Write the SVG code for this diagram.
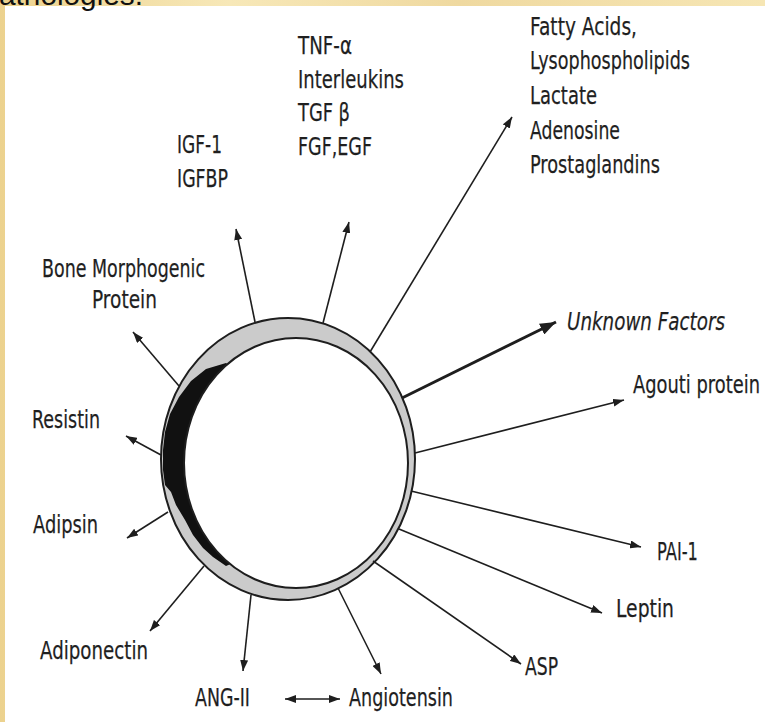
<svg xmlns="http://www.w3.org/2000/svg" width="765" height="722" viewBox="0 0 765 722">
<defs>
<marker id="ah" markerUnits="userSpaceOnUse" markerWidth="11" markerHeight="8" refX="11" refY="4" orient="auto-start-reverse"><path d="M0,0 L11,4 L0,8 z" fill="#1e1e1e"/></marker>
<marker id="ahBig" markerUnits="userSpaceOnUse" markerWidth="16" markerHeight="12" refX="16" refY="6" orient="auto"><path d="M0,0 L16,6 L0,12 z" fill="#1e1e1e"/></marker>
<linearGradient id="bg" x1="0" y1="0" x2="1" y2="0">
<stop offset="0" stop-color="#ecd28e"/><stop offset="0.3" stop-color="#f7e8b8"/><stop offset="0.6" stop-color="#efd9a0"/><stop offset="1" stop-color="#f6e6b4"/>
</linearGradient>
</defs>
<style>
.t{font-family:"DejaVu Sans","Liberation Sans",sans-serif;font-size:25px;fill:#1f1f1f;stroke:#1f1f1f;stroke-width:0.25}
.c{stroke:#1e1e1e;stroke-width:1.6;fill:none}
</style>
<rect x="0" y="0" width="765" height="722" fill="url(#bg)"/>
<rect x="5" y="6" width="760" height="716" fill="#ffffff"/>
<text x="-1" y="5" font-family="Liberation Sans, Arial, sans-serif" font-size="29" fill="#111" textLength="144" lengthAdjust="spacingAndGlyphs">athologies.</text>

<g id="cell">
<ellipse cx="288" cy="459" rx="127" ry="141" fill="#cbcbcb" stroke="#1e1e1e" stroke-width="2"/>
<path d="M226,363 L206,369 L191,381 L179,397 L170,414 L165,432 L163,450 L163,470 L165,485 L171,492 L176,505 L185,520 L193,535 L203,548 L213,557 L226,566 L240,560 L215,470 L235,370 z" fill="#111"/>
<ellipse cx="296" cy="463" rx="112" ry="125" fill="#ffffff" stroke="#1e1e1e" stroke-width="2"/>
</g>

<g id="connectors">
<line class="c" x1="255" y1="322" x2="236" y2="229" marker-end="url(#ah)"/>
<line class="c" x1="323" y1="323" x2="349" y2="222" marker-end="url(#ah)"/>
<line class="c" x1="370" y1="352" x2="512" y2="117" marker-end="url(#ah)"/>
<line x1="402" y1="398" x2="556" y2="322" stroke="#1e1e1e" stroke-width="3" marker-end="url(#ahBig)"/>
<line class="c" x1="415" y1="453" x2="624" y2="400" marker-end="url(#ah)"/>
<line class="c" x1="411" y1="491" x2="641" y2="547" marker-end="url(#ah)"/>
<line class="c" x1="399" y1="529" x2="602" y2="613" marker-end="url(#ah)"/>
<line class="c" x1="373" y1="561" x2="521" y2="664" marker-end="url(#ah)"/>
<line class="c" x1="338" y1="588" x2="381" y2="674" marker-end="url(#ah)"/>
<line class="c" x1="251" y1="595" x2="243" y2="671" marker-end="url(#ah)"/>
<line class="c" x1="204" y1="566" x2="150" y2="631" marker-end="url(#ah)"/>
<line class="c" x1="168" y1="512" x2="127" y2="538" marker-end="url(#ah)"/>
<line class="c" x1="161" y1="455" x2="126" y2="436" marker-end="url(#ah)"/>
<line class="c" x1="179" y1="386" x2="133" y2="332" marker-end="url(#ah)"/>
<line class="c" x1="285" y1="699" x2="340" y2="699" marker-start="url(#ah)" marker-end="url(#ah)"/>
</g>

<g id="lipids">
<text class="t" x="530" y="35" textLength="107" lengthAdjust="spacingAndGlyphs">Fatty Acids,</text>
<text class="t" x="530" y="69" textLength="160" lengthAdjust="spacingAndGlyphs">Lysophospholipids</text>
<text class="t" x="530" y="104" textLength="67" lengthAdjust="spacingAndGlyphs">Lactate</text>
<text class="t" x="530" y="139" textLength="90" lengthAdjust="spacingAndGlyphs">Adenosine</text>
<text class="t" x="530" y="173" textLength="130" lengthAdjust="spacingAndGlyphs">Prostaglandins</text>
</g>
<g id="cytokines">
<text class="t" x="298" y="54" textLength="54" lengthAdjust="spacingAndGlyphs">TNF-α</text>
<text class="t" x="298" y="88" textLength="106" lengthAdjust="spacingAndGlyphs">Interleukins</text>
<text class="t" x="298" y="121" textLength="52" lengthAdjust="spacingAndGlyphs">TGF β</text>
<text class="t" x="298" y="155" textLength="74" lengthAdjust="spacingAndGlyphs">FGF,EGF</text>
</g>
<g id="igf">
<text class="t" x="177" y="153" textLength="45" lengthAdjust="spacingAndGlyphs">IGF-1</text>
<text class="t" x="177" y="187" textLength="51" lengthAdjust="spacingAndGlyphs">IGFBP</text>
</g>
<g id="bmp">
<text class="t" x="42" y="277" textLength="163" lengthAdjust="spacingAndGlyphs">Bone Morphogenic</text>
<text class="t" x="92" y="308" textLength="65" lengthAdjust="spacingAndGlyphs">Protein</text>
</g>
<g id="resistin"><text class="t" x="32" y="428" textLength="68" lengthAdjust="spacingAndGlyphs">Resistin</text></g>
<g id="adipsin"><text class="t" x="33" y="533" textLength="65" lengthAdjust="spacingAndGlyphs">Adipsin</text></g>
<g id="adiponectin"><text class="t" x="40" y="659" textLength="108" lengthAdjust="spacingAndGlyphs">Adiponectin</text></g>
<g id="ang2"><text class="t" x="195" y="706" textLength="55" lengthAdjust="spacingAndGlyphs">ANG-II</text></g>
<g id="angiotensin"><text class="t" x="349" y="706" textLength="104" lengthAdjust="spacingAndGlyphs">Angiotensin</text></g>
<g id="asp"><text class="t" x="525" y="675" textLength="33" lengthAdjust="spacingAndGlyphs">ASP</text></g>
<g id="leptin"><text class="t" x="616" y="617" textLength="58" lengthAdjust="spacingAndGlyphs">Leptin</text></g>
<g id="pai1"><text class="t" x="657" y="560" textLength="41" lengthAdjust="spacingAndGlyphs">PAI-1</text></g>
<g id="agouti"><text class="t" x="633" y="393" textLength="127" lengthAdjust="spacingAndGlyphs">Agouti protein</text></g>
<g id="unknown"><text class="t" x="567" y="330" font-style="italic" textLength="158" lengthAdjust="spacingAndGlyphs">Unknown Factors</text></g>
</svg>
